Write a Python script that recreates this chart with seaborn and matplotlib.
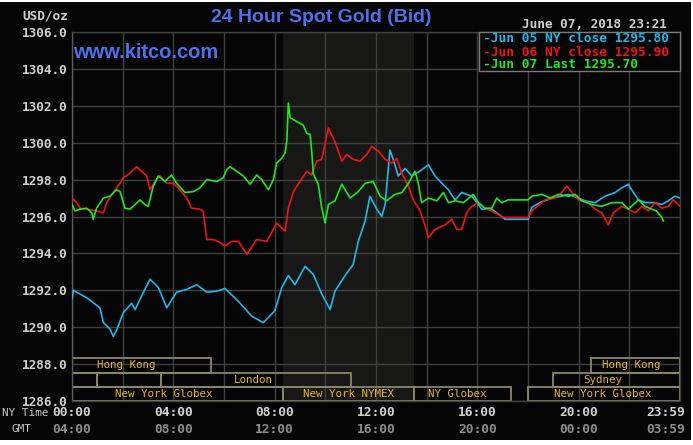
import numpy as np
import pandas as pd
import seaborn as sns
import matplotlib.pyplot as plt
from matplotlib.patches import Rectangle
import matplotlib.transforms as mtransforms

# ---------------- data ----------------
jun05_hours = [0.00, 0.05, 0.58, 1.10, 1.24, 1.50, 1.63, 1.75, 2.03, 2.36, 2.49, 2.75, 3.08, 3.41,
               3.74, 4.13, 4.53, 4.92, 5.32, 5.71, 6.04, 6.57, 7.09, 7.55, 8.01, 8.28, 8.54, 8.80,
               9.20, 9.53, 9.86, 10.19, 10.38, 10.78, 11.10, 11.30, 11.57, 11.76, 12.03, 12.23,
               12.36, 12.55, 12.68, 12.88, 13.15, 13.41, 13.67, 14.07, 14.33, 14.60, 14.86, 15.12,
               15.38, 15.78, 16.04, 16.17, 16.57, 16.96, 17.09, 18.01, 18.15, 18.54, 18.94, 19.33,
               19.60, 20.25, 20.65, 21.04, 21.44, 21.70, 21.96, 22.09, 22.36, 22.62, 23.02, 23.28,
               23.54, 23.80, 24.00]
jun05_price = [1291.5, 1292.0, 1291.6, 1291.05, 1290.25, 1289.9, 1289.5, 1289.8, 1290.8, 1291.3,
               1290.95, 1291.7, 1292.6, 1292.15, 1291.05, 1291.9, 1292.05, 1292.3, 1291.9, 1291.95,
               1292.1, 1291.4, 1290.6, 1290.25, 1290.9, 1292.15, 1292.8, 1292.3, 1293.3, 1292.85,
               1291.8, 1290.95, 1291.95, 1292.8, 1293.4, 1294.65, 1295.75, 1297.1, 1296.4, 1296.0,
               1296.65, 1299.6, 1299.1, 1298.2, 1298.6, 1298.2, 1298.4, 1298.8, 1298.2, 1297.8,
               1297.45, 1296.9, 1297.3, 1297.1, 1296.65, 1296.4, 1296.4, 1296.0, 1295.85, 1295.85,
               1296.5, 1296.8, 1297.0, 1297.1, 1297.2, 1296.85, 1296.75, 1297.1, 1297.3, 1297.55,
               1297.75, 1297.45, 1296.9, 1296.75, 1296.75, 1296.65, 1296.85, 1297.1, 1297.0]

jun06_hours = [0.00, 0.18, 0.32, 0.58, 0.97, 1.24, 1.37, 1.63, 1.89, 2.03, 2.29, 2.55, 2.75, 2.95,
               3.08, 3.28, 3.47, 3.74, 4.00, 4.26, 4.53, 4.72, 5.05, 5.18, 5.32, 5.58, 5.84, 6.04,
               6.30, 6.57, 6.90, 7.29, 7.69, 8.08, 8.41, 8.54, 8.74, 9.00, 9.27, 9.46, 9.66, 9.86,
               10.12, 10.38, 10.65, 10.84, 11.10, 11.37, 11.63, 11.83, 12.09, 12.36, 12.62, 12.82,
               13.02, 13.28, 13.47, 13.74, 13.94, 14.07, 14.33, 14.73, 14.99, 15.19, 15.38, 15.58,
               15.78, 16.04, 16.30, 16.57, 16.83, 17.03, 18.01, 18.15, 18.28, 18.67, 19.07, 19.33,
               19.53, 19.73, 19.99, 20.38, 20.65, 20.91, 21.17, 21.37, 21.70, 21.96, 22.23, 22.49,
               22.75, 23.02, 23.28, 23.54, 23.73, 24.00]
jun06_price = [1297.0, 1296.75, 1296.45, 1296.4, 1296.3, 1296.2, 1296.75, 1297.3, 1297.8, 1298.1,
               1298.35, 1298.7, 1298.45, 1298.2, 1297.45, 1297.9, 1298.2, 1297.8, 1297.8, 1297.45,
               1297.0, 1296.45, 1296.4, 1296.3, 1294.75, 1294.75, 1294.6, 1294.4, 1294.65, 1294.65,
               1293.95, 1294.75, 1294.65, 1295.65, 1295.2, 1296.45, 1297.35, 1297.9, 1298.45,
               1298.25, 1299.0, 1299.1, 1300.8, 1300.05, 1299.0, 1299.35, 1299.1, 1299.0, 1299.35,
               1299.8, 1299.55, 1299.1, 1298.9, 1299.15, 1298.35, 1297.65, 1296.9, 1296.3, 1295.5,
               1294.85, 1295.3, 1295.55, 1295.85, 1295.3, 1295.3, 1296.2, 1296.55, 1296.75, 1296.45,
               1296.3, 1296.1, 1295.95, 1295.95, 1296.3, 1296.45, 1296.9, 1297.0, 1297.3, 1297.65,
               1297.3, 1296.9, 1296.75, 1296.4, 1296.2, 1295.55, 1296.2, 1296.55, 1296.4, 1296.2,
               1296.55, 1296.3, 1296.75, 1296.45, 1296.55, 1296.9, 1296.55]

jun07_hours = [0.00, 0.12, 0.32, 0.58, 0.78, 0.84, 0.97, 1.24, 1.50, 1.76, 1.90, 2.09, 2.29, 2.49,
               2.68, 2.88, 3.01, 3.21, 3.41, 3.67, 3.93, 4.13, 4.46, 4.79, 5.05, 5.32, 5.71, 5.97,
               6.11, 6.24, 6.50, 6.76, 7.03, 7.29, 7.49, 7.75, 7.95, 8.08, 8.28, 8.41, 8.48, 8.54,
               8.61, 8.87, 9.13, 9.27, 9.40, 9.46, 9.53, 9.72, 9.86, 9.99, 10.12, 10.38, 10.65,
               10.98, 11.30, 11.57, 11.89, 12.16, 12.42, 12.75, 13.02, 13.28, 13.54, 13.67, 13.80,
               14.07, 14.40, 14.66, 14.86, 15.12, 15.45, 15.84, 16.04, 16.30, 16.57, 16.77, 16.96,
               17.22, 18.00, 18.15, 18.54, 18.87, 19.20, 19.60, 19.86, 20.12, 20.52, 20.91, 21.31,
               21.70, 21.96, 22.36, 22.62, 22.88, 23.08, 23.28, 23.35]
jun07_price = [1296.65, 1296.3, 1296.4, 1296.45, 1296.2, 1295.85, 1296.45, 1297.0, 1297.1, 1297.45,
               1297.35, 1296.45, 1296.4, 1296.65, 1296.9, 1296.65, 1296.55, 1297.65, 1298.2, 1297.9,
               1298.25, 1297.8, 1297.3, 1297.35, 1297.55, 1298.0, 1297.9, 1298.1, 1298.55, 1298.7,
               1298.45, 1298.2, 1297.75, 1298.25, 1298.0, 1297.45, 1298.0, 1298.9, 1299.15, 1299.45,
               1300.1, 1302.15, 1301.35, 1301.15, 1300.95, 1300.5, 1300.45, 1299.55, 1298.3, 1297.75,
               1296.45, 1295.65, 1296.65, 1296.85, 1297.75, 1297.0, 1297.35, 1297.8, 1297.9, 1297.1,
               1296.85, 1297.2, 1297.3, 1297.8, 1298.45, 1297.8, 1296.75, 1297.0, 1296.85, 1297.3,
               1296.75, 1296.85, 1296.75, 1297.2, 1296.75, 1296.45, 1296.45, 1297.0, 1296.75, 1296.9,
               1296.9, 1297.1, 1297.2, 1297.0, 1297.2, 1297.1, 1297.2, 1296.85, 1296.65, 1296.55,
               1296.75, 1296.75, 1296.4, 1296.9, 1296.55, 1296.4, 1296.3, 1295.95, 1295.75]

series_labels = ["Jun 05 NY close 1295.80", "Jun 06 NY close 1295.90", "Jun 07 Last 1295.70"]
series_colors = ["#1fb8ea", "#f01414", "#22e622"]

ny_time_labels = ["00:00", "04:00", "08:00", "12:00", "16:00", "20:00", "23:59"]
gmt_labels = ["04:00", "08:00", "12:00", "16:00", "20:00", "00:00", "03:59"]
label_hours = [0, 4, 8, 12, 16, 20, 24]
y_ticks = [1286, 1288, 1290, 1292, 1294, 1296, 1298, 1300, 1302, 1304, 1306]

# sessions: (row, start, end, label, label_hour)
sessions = [
    (2, 0.0, 5.5, "Hong Kong", 2.13),
    (2, 20.5, 24.0, "Hong Kong", 22.07),
    (1, 0.0, 1.0, "", 0.5),
    (1, 1.0, 3.5, "", 2.25),
    (1, 3.5, 11.0, "London", 7.15),
    (1, 19.0, 24.0, "Sydney", 20.96),
    (0, 0.0, 8.333, "New York Globex", 3.63),
    (0, 8.333, 13.5, "New York NYMEX", 10.9),
    (0, 13.5, 17.33, "NY Globex", 15.2),
    (0, 18.0, 24.0, "New York Globex", 20.96),
]
pit_start, pit_end = 8.333, 13.5

df = pd.concat([
    pd.DataFrame({"hour": jun05_hours, "price": jun05_price, "series": series_labels[0]}),
    pd.DataFrame({"hour": jun06_hours, "price": jun06_price, "series": series_labels[1]}),
    pd.DataFrame({"hour": jun07_hours, "price": jun07_price, "series": series_labels[2]}),
])

# ---------------- style ----------------
sns.set_theme(style="dark")
plt.rcParams["font.family"] = ["DejaVu Sans Mono"]

BG = "#050505"
GRID = "#404040"
W, H = 693, 445
fig = plt.figure(figsize=(6.93, 4.45), dpi=100, facecolor="white")
fig.patches.append(Rectangle((0, 5 / H), 691 / W, 438 / H, transform=fig.transFigure,
                             facecolor=BG, edgecolor="none", zorder=-10))
ax = fig.add_axes([72 / W, 1 - 401 / H, 608 / W, 369 / H])
ax.set_zorder(1)
ax.set_facecolor(BG)

ax.axvspan(pit_start, pit_end, color="#171716", zorder=0, lw=0)

sns.lineplot(data=df, x="hour", y="price", hue="series", palette=dict(zip(series_labels, series_colors)),
             estimator=None, sort=False, linewidth=1.2, ax=ax, legend=False, zorder=3)

ax.set_xlim(0, 24)
ax.set_ylim(1286, 1306)
ax.set_xticks(np.arange(0, 25, 2))
ax.set_yticks(y_ticks)
ax.set_yticklabels([f"{v:.1f}" for v in y_ticks], fontsize=9.2, fontweight="bold", color="#cfcfcf")
ax.set_xticklabels([])
ax.tick_params(length=0, pad=3.5)
ax.grid(True, color=GRID, lw=1.0, zorder=1)
ax.set_axisbelow(True)
ax.set_xlabel("")
ax.set_ylabel("")
for s in ax.spines.values():
    s.set_color(GRID)
    s.set_linewidth(1.0)
ax.spines["left"].set_color("#5a5a5a")

# session boxes
row_h = 0.77
for row, a, b, lab, lh in sessions:
    y0 = 1286.0 + row * row_h
    ax.add_patch(Rectangle((a, y0), b - a, row_h, fill=False, edgecolor="#8b8765", lw=1.3, zorder=2))
    if lab:
        ax.text(lh, y0 + row_h / 2, lab, ha="center", va="center", fontsize=7.8,
                color="#e6b422", zorder=4)

# x labels
xt = ax.get_xaxis_transform()
for h, a, g in zip(label_hours, ny_time_labels, gmt_labels):
    if h == 24:
        tr = mtransforms.offset_copy(xt, fig=fig, x=5, y=0, units="dots")
        ha = "right"
    else:
        tr = xt
        ha = "center"
    ax.text(h, -0.0325, a, transform=tr, ha=ha, va="center", fontsize=9.3, fontweight="bold",
            color="#d2d2d2", clip_on=False)
    ax.text(h, -0.076, g, transform=tr, ha=ha, va="center", fontsize=9.3, fontweight="bold",
            color="#8c8c8c", clip_on=False)
fig.text(2 / W, 1 - 413 / H, "NY Time", ha="left", va="center", fontsize=7.9, color="#c8c8c8")
fig.text(21 / W, 1 - 429 / H, "GMT", ha="center", va="center", fontsize=7.9, color="#c8c8c8")

# header texts
fig.text(68 / W, 1 - 16 / H, "USD/oz", ha="right", va="center", fontsize=9.2, fontweight="bold",
         color="#cfcfcf")
fig.text(667 / W, 1 - 24 / H, "June 07, 2018 23:21", ha="right", va="center", fontsize=9.2,
         fontweight="bold", color="#cfcfcf")
fig.text(321 / W, 1 - 17 / H, "24 Hour Spot Gold (Bid)", ha="center", va="center", fontsize=14,
         fontweight="bold", color="#4d70ee", family=["Liberation Sans"])
fig.text(73 / W, 1 - 53 / H, "www.kitco.com", ha="left", va="center", fontsize=14.5,
         fontweight="bold", color="#4d70ee", family=["Liberation Sans"])

# legend box (drawn as figure artists on top of the axes)
fig.add_artist(Rectangle((479 / W, 1 - 71 / H), 201 / W, 39 / H, transform=fig.transFigure,
                         facecolor=BG, edgecolor="#7a7a7a", lw=1.0, zorder=5))
for i, (lab, col) in enumerate(zip(series_labels, series_colors)):
    fig.text(483 / W, 1 - (39 + 13 * i) / H, "-" + lab, ha="left", va="center", fontsize=9.3,
             fontweight="bold", color=col, zorder=6)

fig.savefig("out.png", dpi=100, facecolor=fig.get_facecolor())
